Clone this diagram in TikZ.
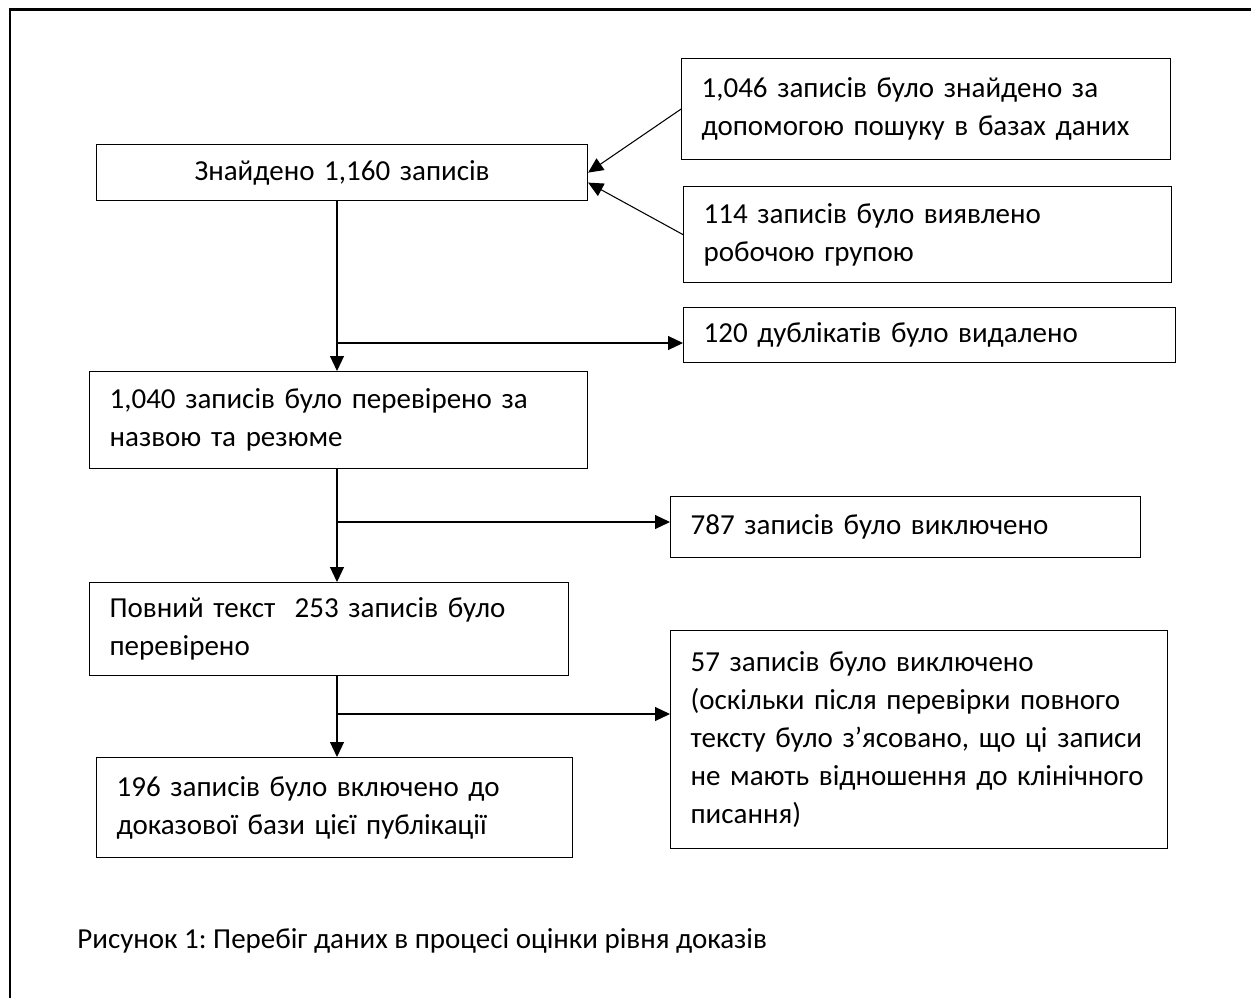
\documentclass[tikz,border=0pt]{standalone}
\usepackage{fontspec}
\setmainfont{Carlito}
\frenchspacing
\usetikzlibrary{arrows.meta}

\begin{document}
\begin{tikzpicture}[x=0.02cm,y=-0.02cm,
    font=\fontsize{16.5}{21.6}\selectfont,
    box/.style={draw, line width=0.7pt, anchor=north west, inner xsep=0.4cm, inner ysep=0pt, align=left},
    arr/.style={-{Triangle[length=0.3cm,width=0.28cm]}, line width=0.6pt}]
    \useasboundingbox (0,0) rectangle (1251,998);
    \draw[line width=0.06cm] (10,998) -- (10,9) -- (1251,9);
    %records
    \node[box, align=center, text width=9.02cm, minimum height=1.12cm] (found) at (96,144) {Знайдено 1,160 записів};
    \node[box, text width=8.98cm, minimum height=2.02cm] (dbase) at (681,58) {1,046 записів було знайдено за\\допомогою пошуку в базах даних};
    \node[box, text width=8.96cm, minimum height=1.92cm] (team) at (683,186) {114 записів було виявлено\\робочою групою};
    \node[box, text width=9.04cm, minimum height=1.1cm] (dupl) at (683,307) {120 дублікатів було видалено};
    \node[box, text width=9.16cm, minimum height=1.94cm] (screen) at (89,371) {1,040 записів було перевірено за\\назвою та резюме};
    \node[box, text width=8.6cm, minimum height=1.22cm] (excl) at (670,496) {787 записів було виключено};
    \node[box, text width=8.78cm, minimum height=1.86cm] (fulltext) at (89,582) {Повний текст \ 253 записів було\\перевірено};
    \node[box, text width=9.14cm, minimum height=4.36cm] (exclft) at (670,630) {57 записів було виключено\\(оскільки після перевірки повного\\тексту було з’ясовано, що ці записи\\не мають відношення до клінічного\\писання)};
    \node[box, text width=8.72cm, minimum height=2cm] (incl) at (96,757) {196 записів було включено до\\доказової бази цієї публікації};
    \node[anchor=base west, inner sep=0pt] (cap) at (77,948) {Рисунок 1: Перебіг даних в процесі оцінки рівня доказів};

    %flow
    \coordinate (t) at (337,0);
    \coordinate (b1) at (337,343);
    \coordinate (b2) at (337,522);
    \coordinate (b3) at (337,714);
    \draw[arr] (dbase.west) -- (found.east);
    \draw[arr] (team.west) -- ([yshift=-0.2cm]found.east);
    \draw[arr] (found.south -| t) -- (screen.north -| t);
    \draw[arr] (b1) -- (b1 -| dupl.west);
    \draw[arr] (screen.south -| t) -- (fulltext.north -| t);
    \draw[arr] (b2) -- (b2 -| excl.west);
    \draw[arr] (fulltext.south -| t) -- (incl.north -| t);
    \draw[arr] (b3) -- (b3 -| exclft.west);
\end{tikzpicture}
\end{document}
